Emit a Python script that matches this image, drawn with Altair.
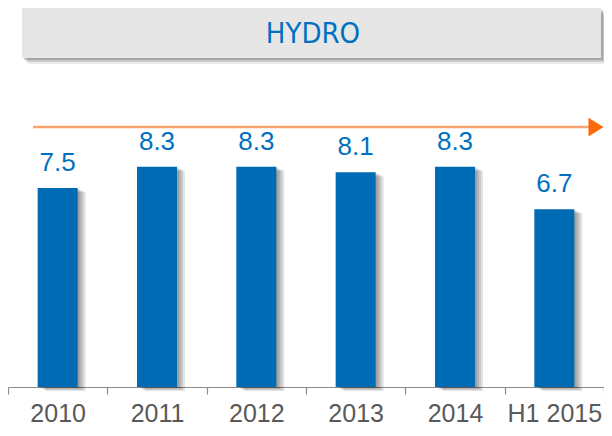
import altair as alt
import pandas as pd

categories = ["2010", "2011", "2012", "2013", "2014", "H1 2015"]
values = [7.5, 8.3, 8.3, 8.1, 8.3, 6.7]
title_text = "HYDRO"

df = pd.DataFrame({"period": categories, "value": values})
dummy = pd.DataFrame({"d": [0]})

W, H = 596, 379
FONT = "Liberation Sans"
TITLE_FONT = "DejaVu Sans Condensed, Liberation Sans Narrow, Liberation Sans"
BLUE = "#006bb5"
TXT_BLUE = "#0070c0"

x = alt.X(
    "period:N", sort=categories, title=None,
    scale=alt.Scale(paddingInner=0, paddingOuter=0),
    axis=alt.Axis(labelAngle=0, labelFontSize=25, labelColor="#595959", labelFont=FONT,
                  domainColor="#8c8c8c", tickColor="#8c8c8c", tickSize=7, tickBand="extent",
                  labelPadding=7, domainWidth=1.2, tickWidth=1.2, grid=False),
)
y = alt.Y("value:Q", scale=alt.Scale(domain=[0, 14.29]), axis=None)

base = alt.Chart(df).encode(x=x, y=y)

layers = []

# title box shadow + box + text
for k, op in [(2, 0.18), (4, 0.14), (6, 0.08)]:
    layers.append(
        alt.Chart(dummy).mark_rect(color="#000000", opacity=op).encode(
            x=alt.value(14 + k), x2=alt.value(593 + k), y=alt.value(0 + k), y2=alt.value(50 + k)
        )
    )
layers.append(
    alt.Chart(dummy).mark_rect(color="#e6e6e6").encode(
        x=alt.value(14), x2=alt.value(593), y=alt.value(0), y2=alt.value(50)
    )
)
layers.append(
    alt.Chart(dummy).mark_text(fontSize=29, font=TITLE_FONT, color=TXT_BLUE, baseline="middle", align="center").encode(
        x=alt.value(305), y=alt.value(26), text=alt.value(title_text)
    )
)

# arrow
layers.append(
    alt.Chart(dummy).mark_rule(color="#f9a46e", strokeWidth=2.5).encode(
        x=alt.value(25), x2=alt.value(582), y=alt.value(119)
    )
)
layers.append(
    alt.Chart(dummy).mark_point(shape="M-1,-1.25L1,0L-1,1.25Z", filled=True, opacity=1,
                                color="#fa6a0a", size=225).encode(
        x=alt.value(588), y=alt.value(119)
    )
)

# bar shadows
for k in [2, 4, 6, 8]:
    layers.append(base.mark_bar(size=40, color="#000000", opacity=0.11, xOffset=k, yOffset=k / 2))

layers.append(base.mark_bar(size=40, color=BLUE))
layers.append(
    base.mark_text(dy=-17, baseline="alphabetic", fontSize=26, font=FONT, color=TXT_BLUE).encode(
        text=alt.Text("value:Q", format=".1f")
    )
)

chart = alt.layer(*layers).properties(
    width=W, height=H,
    padding={"left": 0, "top": 0, "right": 0, "bottom": 41},
    autosize=alt.AutoSizeParams(type="none"),
).configure_view(stroke=None)

chart.save("out.html", embed_options={"renderer": "svg", "actions": False})
